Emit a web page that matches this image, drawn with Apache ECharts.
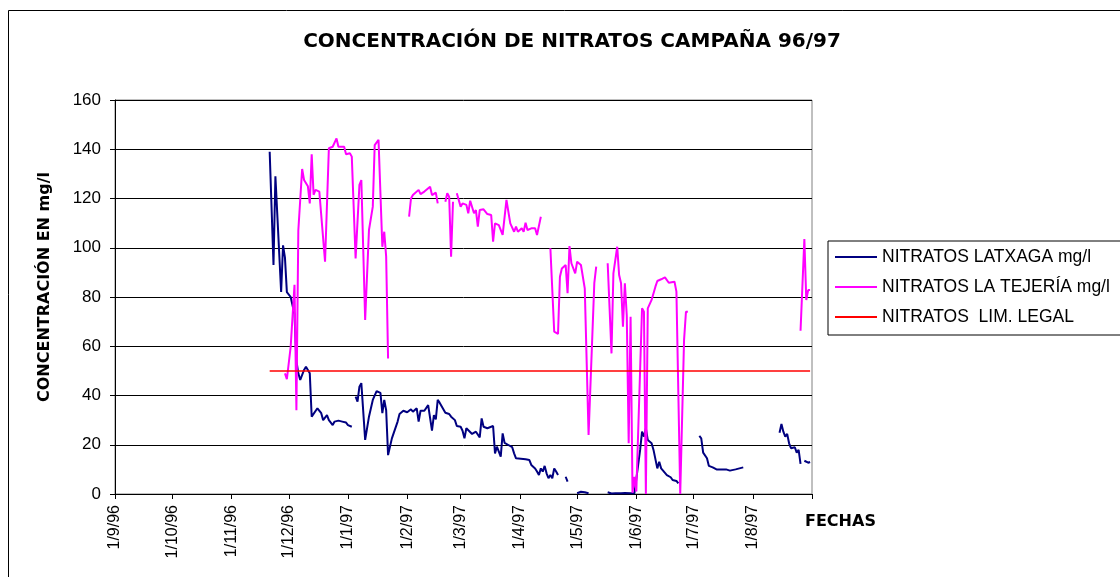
<!DOCTYPE html>
<html>
<head>
<meta charset="utf-8">
<script src="https://cdn.jsdelivr.net/npm/echarts@6/dist/echarts.min.js"></script>
<style>
  html, body { margin: 0; padding: 0; background: #fff; }
  #chart { width: 1120px; height: 577px; }
</style>
</head>
<body>
<div id="chart"></div>
<script>
// month ticks on the x axis
const mesesTicks = ['1996-09-01', '1996-10-01', '1996-11-01', '1996-12-01', '1997-01-01', '1997-02-01',
  '1997-03-01', '1997-04-01', '1997-05-01', '1997-06-01', '1997-07-01', '1997-08-01', '1997-09-01']
const etiquetasMeses = ['1/9/96', '1/10/96', '1/11/96', '1/12/96', '1/1/97', '1/2/97',
  '1/3/97', '1/4/97', '1/5/97', '1/6/97', '1/7/97', '1/8/97', '']

// NITRATOS LATXAGA mg/l (null = no sample, breaks the line)
const latxagaFechas = [
  '1996-11-21', '1996-11-23', '1996-11-24', '1996-11-27', '1996-11-28', '1996-11-29', '1996-11-30',
  '1996-12-02', '1996-12-03', '1996-12-04', '1996-12-05', '1996-12-06', '1996-12-07', '1996-12-08',
  '1996-12-09', '1996-12-10', '1996-12-11', '1996-12-12', '1996-12-13', '1996-12-14', '1996-12-16',
  '1996-12-18', '1996-12-19', '1996-12-21', '1996-12-22', '1996-12-23', '1996-12-24', '1996-12-25',
  '1996-12-27', '1996-12-29', '1996-12-31', '1997-01-01', '1997-01-03', '1997-01-04',
  '1997-01-05', '1997-01-06', '1997-01-07', '1997-01-08', '1997-01-10', '1997-01-12', '1997-01-14',
  '1997-01-16', '1997-01-18', '1997-01-19', '1997-01-20', '1997-01-21', '1997-01-22', '1997-01-24',
  '1997-01-25', '1997-01-27', '1997-01-28', '1997-01-30', '1997-02-01', '1997-02-03', '1997-02-04',
  '1997-02-06', '1997-02-07', '1997-02-08', '1997-02-10', '1997-02-12', '1997-02-14', '1997-02-15',
  '1997-02-16', '1997-02-17', '1997-02-18', '1997-02-21', '1997-02-23', '1997-02-24', '1997-02-26',
  '1997-02-27', '1997-03-01', '1997-03-02', '1997-03-03', '1997-03-04', '1997-03-05', '1997-03-07',
  '1997-03-09', '1997-03-11', '1997-03-12', '1997-03-13', '1997-03-15', '1997-03-16', '1997-03-18',
  '1997-03-19', '1997-03-20', '1997-03-22', '1997-03-23', '1997-03-24', '1997-03-26', '1997-03-28',
  '1997-03-29', '1997-03-30', '1997-03-31', '1997-04-04', '1997-04-06', '1997-04-07', '1997-04-09',
  '1997-04-10', '1997-04-11', '1997-04-12', '1997-04-13', '1997-04-14', '1997-04-15', '1997-04-16',
  '1997-04-17', '1997-04-18', '1997-04-19', '1997-04-20', '1997-04-21', '1997-04-22',
  '1997-04-25', '1997-04-26', '1997-04-27',
  '1997-05-01', '1997-05-02', '1997-05-03', '1997-05-05', '1997-05-07', '1997-05-10',
  '1997-05-17', '1997-05-19', '1997-05-21', '1997-05-24', '1997-05-26', '1997-05-29', '1997-05-31',
  '1997-06-03', '1997-06-04', '1997-06-05', '1997-06-06', '1997-06-07', '1997-06-09', '1997-06-10',
  '1997-06-12', '1997-06-13', '1997-06-14', '1997-06-15', '1997-06-17', '1997-06-19', '1997-06-20',
  '1997-06-22', '1997-06-23', '1997-06-28',
  '1997-07-04', '1997-07-05', '1997-07-06', '1997-07-08', '1997-07-09', '1997-07-11', '1997-07-12',
  '1997-07-13', '1997-07-15', '1997-07-16', '1997-07-18', '1997-07-20', '1997-07-21', '1997-07-23',
  '1997-07-25', '1997-07-27', '1997-08-05',
  '1997-08-15', '1997-08-16', '1997-08-17', '1997-08-18', '1997-08-19', '1997-08-20', '1997-08-21',
  '1997-08-22', '1997-08-23', '1997-08-24', '1997-08-25', '1997-08-26', '1997-08-27',
  '1997-08-28', '1997-08-30', '1997-08-31'
]
const latxagaValores = [
  139, 93, 129, 82, 101, 96, 82,
  80, 79.5, 73, 54, 49, 46.3, 45.6,
  50.4, 51.7, 51, 49, 31.4, 32, 34.8,
  32.8, 30, 32, 30, 30.7, 28, 29.4,
  29.8, 29.4, 29, 28, 27.3, null,
  39.5, 37.5, 43.6, 45, 22, 31.4, 38.2,
  41.8, 41.1, 32.8, 38.2, 34, 15.8, 22.6,
  23.3, 29.4, 32.5, 33.8, 33.2, 34.4, 33.4,
  34.8, 29.4, 33.8, 33.8, 36.1, 25.7, 32,
  30.3, 38.2, 37.1, 33, 32.5, 31.4, 30,
  27.6, 27.3, 25.7, 22.6, 26.7, 26, 24.4,
  25.3, 23, 30.7, 27.3, 26.7, 26, 27.6,
  16.5, 19.2, 15.2, 24.6, 20.8, 19.9, 19,
  16.5, 14.5, 13.8, 14.1, 13.8, 11.8, 10.4,
  9.1, 7.7, 10.4, 9.1, 11.4, 8.4, 6.4,
  7.7, 6.4, 10.4, 9.1, 7.7, null,
  7, 5, null,
  0.3, 0.5, 0.9, 0.7, 0.3, null,
  0.7, 0.2, 0.3, 0.3, 0.4, 0.3, 0.3,
  17.9, 25.3, 23.3, 26.7, 21.9, 20.6, 17.9,
  10.4, 13.1, 10.4, 10, 7.7, 6.8, 5.7,
  5.3, 4.3, null,
  23.6, 22.6, 16.8, 14.5, 11.4, 10.8, 11.1,
  10, 10, 9.7, 10, 9.5, 10.3, 10,
  10.4, 10.8, null,
  24.9, 28.4, 25.3, 23.3, 24.4, 20.6, 18.6,
  18.2, 19, 16.8, 17.9, 12.2, null,
  13.5, 12.7, 13
]

// NITRATOS LA TEJERÍA mg/l
const tejeriaFechas = [
  '1996-11-29', '1996-11-30', '1996-12-02', '1996-12-04', '1996-12-05', '1996-12-06', '1996-12-08',
  '1996-12-09', '1996-12-11', '1996-12-12', '1996-12-13', '1996-12-14', '1996-12-15', '1996-12-17',
  '1996-12-20', '1996-12-22', '1996-12-24', '1996-12-25', '1996-12-26', '1996-12-27', '1996-12-30',
  '1996-12-31', '1997-01-02', '1997-01-03', '1997-01-05', '1997-01-06', '1997-01-07', '1997-01-08',
  '1997-01-10', '1997-01-12', '1997-01-14', '1997-01-15', '1997-01-17', '1997-01-19', '1997-01-20',
  '1997-01-21', '1997-01-22', '1997-01-26',
  '1997-02-02', '1997-02-03', '1997-02-04', '1997-02-05', '1997-02-07', '1997-02-08', '1997-02-10',
  '1997-02-13', '1997-02-14', '1997-02-15', '1997-02-16', '1997-02-17', '1997-02-19',
  '1997-02-21', '1997-02-22', '1997-02-23', '1997-02-24', '1997-02-25', '1997-02-26',
  '1997-02-27', '1997-02-28', '1997-03-01', '1997-03-02', '1997-03-04', '1997-03-05', '1997-03-06',
  '1997-03-08', '1997-03-09', '1997-03-10', '1997-03-11', '1997-03-13', '1997-03-14', '1997-03-15',
  '1997-03-17', '1997-03-18', '1997-03-19', '1997-03-21', '1997-03-22', '1997-03-23', '1997-03-25',
  '1997-03-26', '1997-03-27', '1997-03-28', '1997-03-29', '1997-03-30', '1997-03-31', '1997-04-02',
  '1997-04-03', '1997-04-04', '1997-04-05', '1997-04-07', '1997-04-09', '1997-04-10', '1997-04-12',
  '1997-04-14',
  '1997-04-17', '1997-04-18', '1997-04-19', '1997-04-21', '1997-04-22', '1997-04-23', '1997-04-25',
  '1997-04-26', '1997-04-27', '1997-04-28', '1997-04-30', '1997-05-01', '1997-05-03', '1997-05-04',
  '1997-05-05', '1997-05-06', '1997-05-07', '1997-05-10', '1997-05-11', '1997-05-14',
  '1997-05-17', '1997-05-19', '1997-05-20', '1997-05-21', '1997-05-22', '1997-05-23', '1997-05-24',
  '1997-05-25', '1997-05-26', '1997-05-27', '1997-05-28', '1997-05-29', '1997-05-30', '1997-05-31',
  '1997-06-01', '1997-06-02', '1997-06-04', '1997-06-05', '1997-06-06', '1997-06-07', '1997-06-09',
  '1997-06-11', '1997-06-12', '1997-06-14', '1997-06-16', '1997-06-18', '1997-06-19', '1997-06-21',
  '1997-06-22', '1997-06-23', '1997-06-24', '1997-06-26', '1997-06-27', '1997-06-28', '1997-07-15',
  '1997-08-26', '1997-08-28', '1997-08-29', '1997-08-30', '1997-08-31'
]
const tejeriaValores = [
  49, 46.6, 59.8, 85, 34, 107, 132,
  127.5, 125, 118, 138, 121.5, 123.5, 122.8,
  94.3, 140.4, 141, 140.4, 144.4, 141, 141,
  138, 138.4, 137, 95.7, 96.4, 125.5, 127.5,
  70.7, 107.2, 116.7, 141.7, 143.8, 100.4, 106.5,
  96.4, 55, null,
  112.6, 120, 121.4, 122.1, 123.5, 121.8, 122.8,
  124.8, 121.4, 122.1, 122.4, 118, null,
  118.7, 122.1, 120.7, 96.4, 118.7, null,
  122.1, 121.4, 116.7, 118, 117.4, 114, 119.1,
  114, 115.3, 108.6, 115.3, 115.6, 115.3, 113.7,
  113.3, 102.5, 109.9, 109.2, 109.6, 105.2, 119.4,
  119.7, 109.9, 109.2, 106.5, 108.6, 106.5, 107.9,
  106.5, 110.2, 107.2, 107.9, 107.9, 105.2, 112.6,
  null,
  99.8, 99, 65.9, 65, 88.2, 91.6, 93,
  81.5, 100.7, 93.7, 89.6, 94.3, 93, 93.4,
  83.5, 82.8, 24, 85.6, 92.3, null,
  93.7, 57.1, 89.6, 88.9, 100.4, 88.9, 85.6,
  67.9, 85.6, 72.5, 20.6, 72, 0.5, 7,
  1, 1, 75.4, 74, 0, 75.4, 78.8,
  84.2, 86.5, 87.2, 88, 85.8, 85.3, 86.2,
  82.2, 81.5, 0, 62.5, 74, 74, null,
  66.3, 103.5, 78.8, 82.8, 82.8
]

// NITRATOS LIM. LEGAL
const limiteFechas = ['1996-11-21', '1997-08-31']
const limiteValores = [50, 50]

const nombres = ['NITRATOS LATXAGA mg/l', 'NITRATOS LA TEJERÍA mg/l', 'NITRATOS  LIM. LEGAL']
const FONT = 'Liberation Sans, Arial, sans-serif'
const FONT_BOLD = 'DejaVu Sans, Verdana, sans-serif'

// dates become timestamps on a numeric axis
const ts = d => echarts.time.parse(d).getTime()
const pares = (fechas, valores) => fechas.map((f, i) => [ts(f), valores[i] === null ? '-' : valores[i]])
const tickTimes = mesesTicks.map(ts)

const chart = echarts.init(document.getElementById('chart'))
chart.setOption({
  animation: false,
  backgroundColor: '#fff',
  title: {
    text: 'CONCENTRACIÓN DE NITRATOS CAMPAÑA 96/97',
    left: 567,
    top: 27,
    textAlign: 'center',
    textStyle: { fontFamily: FONT_BOLD, fontWeight: 'bold', fontSize: 20, color: '#000' }
  },
  legend: {
    orient: 'vertical',
    left: 828,
    top: 241,
    padding: [5, 40, 7, 7],
    itemGap: 8,
    itemWidth: 42,
    itemHeight: 2,
    icon: 'rect',
    borderColor: '#000',
    borderWidth: 1,
    textStyle: { fontFamily: FONT, fontSize: 17.5, color: '#000', lineHeight: 22 },
    data: nombres
  },
  grid: {
    left: 115,
    right: 308,
    top: 100,
    bottom: 83,
    show: true,
    borderColor: '#808080',
    borderWidth: 1,
    outerBoundsMode: 'none'
  },
  xAxis: {
    type: 'value',
    min: tickTimes[0],
    max: tickTimes[tickTimes.length - 1],
    axisLine: { lineStyle: { color: '#000', width: 1 } },
    axisTick: { show: true, length: 5, lineStyle: { color: '#000' }, customValues: tickTimes },
    axisLabel: {
      customValues: tickTimes.slice(0, -1),
      rotate: 90,
      margin: 11,
      fontFamily: FONT,
      fontSize: 16,
      color: '#000',
      formatter: function (v) {
        const i = tickTimes.findIndex(t => Math.abs(t - v) < 60000)
        return i >= 0 ? etiquetasMeses[i] : ''
      }
    },
    splitLine: { show: false }
  },
  yAxis: {
    type: 'value',
    min: 0,
    max: 160,
    interval: 20,
    axisLine: { show: true, lineStyle: { color: '#000', width: 1 } },
    axisTick: { show: true, length: 5, lineStyle: { color: '#000' } },
    axisLabel: { margin: 14, fontFamily: FONT, fontSize: 17, color: '#000' },
    splitLine: { lineStyle: { color: '#000', width: 1 } }
  },
  graphic: [
    {
      type: 'rect',
      shape: { x: 8.5, y: 10.5, width: 1200, height: 700 },
      style: { fill: 'none', stroke: '#000', lineWidth: 1 },
      silent: true
    },
    {
      type: 'text',
      x: 45,
      y: 287,
      rotation: Math.PI / 2,
      style: {
        text: 'CONCENTRACIÓN EN mg/l',
        font: 'bold 16px ' + FONT_BOLD,
        fill: '#000',
        align: 'center',
        verticalAlign: 'middle'
      }
    },
    {
      type: 'text',
      x: 805,
      y: 522,
      style: {
        text: 'FECHAS',
        font: 'bold 16px ' + FONT_BOLD,
        fill: '#000',
        align: 'left',
        verticalAlign: 'middle'
      }
    }
  ],
  series: [
    {
      name: nombres[0],
      type: 'line',
      symbol: 'none',
      connectNulls: false,
      color: '#000080',
      lineStyle: { width: 2 },
      data: pares(latxagaFechas, latxagaValores)
    },
    {
      name: nombres[1],
      type: 'line',
      symbol: 'none',
      connectNulls: false,
      color: '#FF00FF',
      lineStyle: { width: 2 },
      data: pares(tejeriaFechas, tejeriaValores)
    },
    {
      name: nombres[2],
      type: 'line',
      symbol: 'none',
      color: '#FF0000',
      lineStyle: { width: 1.5 },
      data: pares(limiteFechas, limiteValores)
    }
  ]
})
</script>
</body>
</html>
